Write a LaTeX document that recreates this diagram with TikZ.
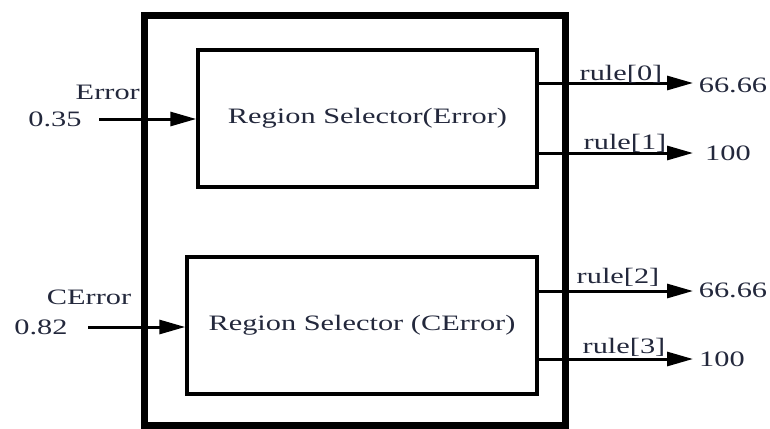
\documentclass[tikz,border=0pt]{standalone}
\usepackage{fontspec}
\setmainfont[FakeStretch=1.38]{Liberation Serif}
\usetikzlibrary{arrows.meta}
\definecolor{ink}{RGB}{35,40,60}
\tikzset{
  frame/.style={draw=black, line width=7pt, minimum width=421pt, minimum height=409pt, inner sep=0pt},
  selector/.style={draw=black, line width=3.5pt, inner sep=0pt, text=ink},
  lbl/.style={inner sep=0pt, text=ink},
  arr/.style={line width=3pt, -{Triangle[length=26pt,width=14pt]}}
}
\begin{document}
\begin{tikzpicture}[x=1pt,y=-1pt,font=\fontsize{22}{26}\selectfont]
\useasboundingbox (0,0) rectangle (770,428);
\fill[white] (0,0) rectangle (770,428);

% enclosing block
\node[frame] (frame) at (354.5,220.5) {};

% the two region selectors
\node[selector, minimum width=339pt, minimum height=137pt] (sel1) at (367.5,118.5) {Region Selector(Error)};
\node[selector, minimum width=350pt, minimum height=137pt] (sel2) at (362,325.5) {Region Selector (CError)};

% inputs
\coordinate (in1) at (99,119);
\coordinate (in2) at (88,327);
\draw[arr] (in1) -- (in1 -| sel1.west);
\draw[arr] (in2) -- (in2 -| sel2.west);
\node[lbl, anchor=east] (errname) at (140,92) {Error};
\node[lbl] (errval) at (55,119) {0.35};
\node[lbl] (cerrname) at (89,297) {CError};
\node[lbl] (cerrval) at (41,327) {0.82};

% outputs
\coordinate (o0) at (693,83);
\coordinate (o1) at (693,153);
\coordinate (o2) at (693,291);
\coordinate (o3) at (693,359);
\draw[arr] (o0 -| sel1.east) -- (o0);
\draw[arr] (o1 -| sel1.east) -- (o1);
\draw[arr] (o2 -| sel2.east) -- (o2);
\draw[arr] (o3 -| sel2.east) -- (o3);

\node[lbl] (r0) at (621,74) {rule[0]};
\node[lbl] (r1) at (625,143) {rule[1]};
\node[lbl] (r2) at (618,277) {rule[2]};
\node[lbl] (r3) at (624,347) {rule[3]};

\node[lbl] (v0) at (733,85) {66.66};
\node[lbl] (v1) at (728,153) {100};
\node[lbl] (v2) at (733,290) {66.66};
\node[lbl] (v3) at (722,359) {100};
\end{tikzpicture}
\end{document}
